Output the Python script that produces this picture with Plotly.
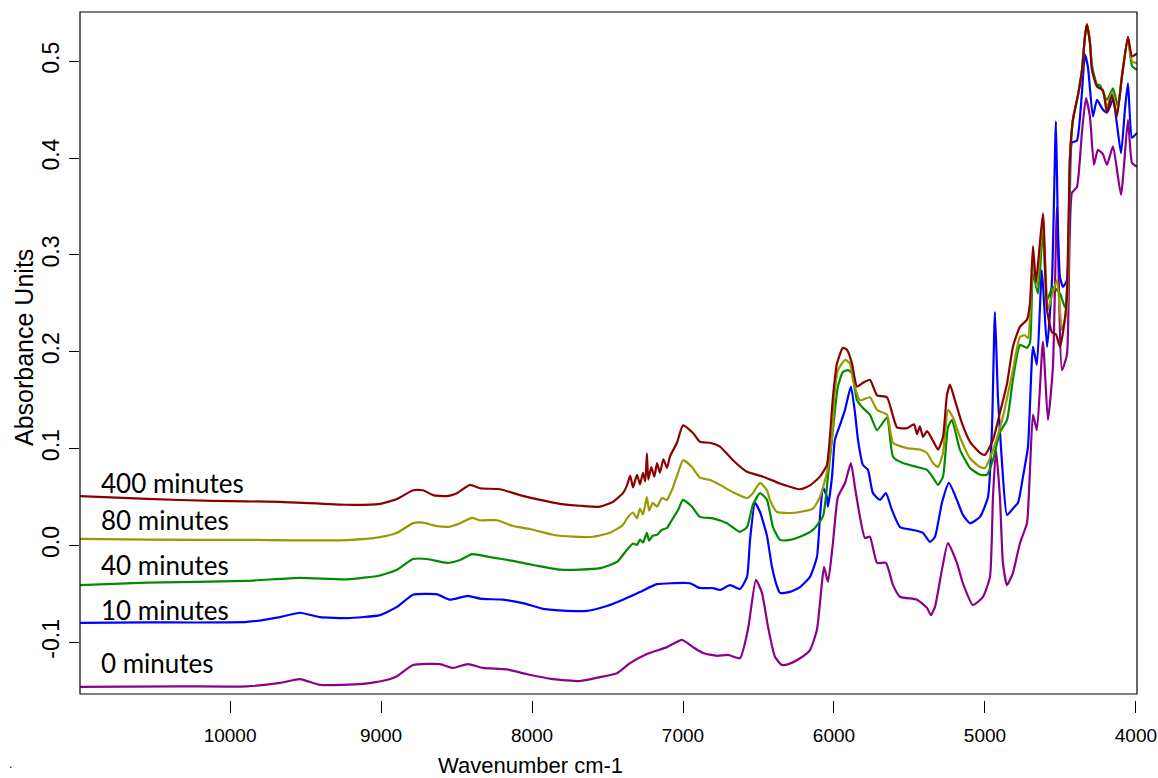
import plotly.graph_objects as go

# ---------------- data ----------------
wn_400 = [10994, 10550, 10113, 9669, 9226, 9007, 8894, 8788, 8722, 8656, 8563, 8497, 8411, 8345, 8212, 8080,
          7947, 7815, 7682, 7550, 7464, 7398, 7371, 7350, 7331, 7305, 7285, 7265, 7250, 7239, 7230, 7210,
          7190, 7172, 7153, 7130, 7106, 7086, 7040, 7000, 6934, 6888, 6821, 6755, 6669, 6576, 6470, 6358,
          6225, 6159, 6093, 6047, 6027, 6007, 5980, 5941, 5914, 5881, 5848, 5808, 5762, 5715, 5649, 5583,
          5517, 5470, 5450, 5431, 5410, 5384, 5344, 5311, 5278, 5252, 5232, 5199, 5152, 5099, 5033, 5000,
          4947, 4901, 4854, 4815, 4768, 4722, 4702, 4682, 4662, 4616, 4589, 4556, 4530, 4503, 4470, 4457,
          4437, 4417, 4384, 4358, 4338, 4325, 4305, 4291, 4258, 4219, 4192, 4159, 4126, 4093, 4053, 4026, 3993]
abs_400 = [0.051, 0.048, 0.046, 0.045, 0.042, 0.043, 0.048, 0.057, 0.057, 0.052, 0.051, 0.054, 0.0625, 0.059, 0.058, 0.052,
           0.047, 0.043, 0.041, 0.040, 0.045, 0.054, 0.062, 0.072, 0.060, 0.073, 0.063, 0.075, 0.066, 0.095, 0.068, 0.081,
           0.071, 0.085, 0.075, 0.089, 0.080, 0.092, 0.106, 0.124, 0.116, 0.107, 0.106, 0.102, 0.088, 0.076, 0.071, 0.064,
           0.058, 0.062, 0.071, 0.083, 0.112, 0.153, 0.188, 0.204, 0.202, 0.188, 0.164, 0.168, 0.171, 0.155, 0.153, 0.122,
           0.121, 0.125, 0.115, 0.123, 0.112, 0.118, 0.108, 0.099, 0.112, 0.155, 0.166, 0.150, 0.126, 0.107, 0.0955, 0.0935,
           0.109, 0.137, 0.167, 0.205, 0.226, 0.233, 0.250, 0.309, 0.272, 0.343, 0.243, 0.220, 0.218, 0.205, 0.235, 0.260,
           0.400, 0.440, 0.465, 0.490, 0.525, 0.538, 0.520, 0.491, 0.474, 0.470, 0.447, 0.465, 0.443, 0.484, 0.525, 0.505, 0.508]

wn_80 = [10994, 10550, 9888, 9226, 9007, 8894, 8788, 8722, 8629, 8543, 8477, 8398, 8345, 8232, 8126, 8014,
         7861, 7729, 7596, 7484, 7398, 7371, 7331, 7305, 7285, 7265, 7239, 7225, 7200, 7172, 7140, 7106,
         7086, 7066, 7033, 7000, 6941, 6888, 6821, 6755, 6669, 6576, 6537, 6490, 6444, 6424, 6378, 6292,
         6225, 6139, 6093, 6047, 6013, 5994, 5974, 5927, 5894, 5874, 5828, 5762, 5715, 5649, 5609, 5517,
         5431, 5384, 5344, 5311, 5278, 5245, 5212, 5166, 5099, 5033, 5000, 4947, 4881, 4815, 4768, 4735,
         4715, 4682, 4656, 4616, 4583, 4556, 4523, 4490, 4457, 4437, 4417, 4384, 4358, 4338, 4325, 4305,
         4291, 4258, 4219, 4192, 4159, 4126, 4093, 4053, 4026, 3993]
abs_80 = [0.0067, 0.006, 0.0057, 0.0055, 0.0085, 0.013, 0.023, 0.0235, 0.020, 0.0195, 0.023, 0.0285, 0.026, 0.026, 0.020, 0.017,
          0.011, 0.009, 0.009, 0.013, 0.021, 0.028, 0.034, 0.028, 0.038, 0.032, 0.050, 0.036, 0.044, 0.040, 0.049, 0.047,
          0.053, 0.060, 0.075, 0.088, 0.081, 0.070, 0.0675, 0.0625, 0.055, 0.049, 0.054, 0.0645, 0.057, 0.047, 0.0345, 0.0335,
          0.0345, 0.038, 0.050, 0.075, 0.112, 0.160, 0.181, 0.1915, 0.188, 0.171, 0.150, 0.153, 0.140, 0.135, 0.106, 0.1005,
          0.099, 0.0955, 0.085, 0.081, 0.0955, 0.140, 0.132, 0.112, 0.090, 0.081, 0.080, 0.0985, 0.133, 0.181, 0.2155, 0.217,
          0.214, 0.292, 0.267, 0.336, 0.243, 0.258, 0.274, 0.2225, 0.243, 0.400, 0.440, 0.465, 0.490, 0.525, 0.538, 0.520,
          0.491, 0.474, 0.470, 0.452, 0.468, 0.446, 0.484, 0.525, 0.500, 0.498]

wn_40 = [10994, 10550, 9888, 9537, 9226, 9007, 8894, 8788, 8696, 8563, 8477, 8398, 8278, 8126, 7967, 7815,
         7682, 7550, 7437, 7371, 7330, 7305, 7285, 7265, 7239, 7225, 7200, 7172, 7140, 7106, 7086, 7033,
         7000, 6941, 6888, 6802, 6709, 6623, 6576, 6537, 6490, 6444, 6404, 6358, 6292, 6225, 6139, 6073,
         6040, 6007, 5974, 5941, 5907, 5881, 5848, 5808, 5762, 5715, 5649, 5609, 5543, 5450, 5384, 5344,
         5311, 5278, 5245, 5219, 5166, 5099, 5033, 4987, 4947, 4901, 4854, 4815, 4768, 4722, 4702, 4682,
         4649, 4616, 4589, 4550, 4503, 4470, 4450, 4437, 4417, 4384, 4358, 4338, 4325, 4305, 4291, 4258,
         4238, 4192, 4152, 4119, 4093, 4053, 4026, 3993]
abs_40 = [-0.041, -0.0385, -0.0365, -0.0335, -0.035, -0.031, -0.025, -0.014, -0.014, -0.018, -0.015, -0.009, -0.012, -0.016, -0.021, -0.025,
          -0.025, -0.0235, -0.017, -0.0045, 0.002, 0.0005, 0.006, 0.003, 0.013, 0.005, 0.010, 0.011, 0.016, 0.018, 0.023, 0.0365,
          0.047, 0.040, 0.0295, 0.028, 0.023, 0.014, 0.019, 0.042, 0.054, 0.047, 0.019, 0.0057, 0.0057, 0.009, 0.016, 0.030,
          0.071, 0.119, 0.164, 0.179, 0.181, 0.178, 0.150, 0.142, 0.135, 0.119, 0.132, 0.0915, 0.085, 0.081, 0.078, 0.070,
          0.0625, 0.071, 0.122, 0.1295, 0.099, 0.080, 0.073, 0.073, 0.088, 0.117, 0.1295, 0.171, 0.207, 0.204, 0.209, 0.281,
          0.260, 0.326, 0.2535, 0.267, 0.260, 0.246, 0.284, 0.400, 0.440, 0.465, 0.490, 0.525, 0.538, 0.520, 0.495, 0.476,
          0.475, 0.460, 0.472, 0.453, 0.484, 0.525, 0.495, 0.491]

wn_10 = [10994, 10550, 9888, 9669, 9537, 9404, 9226, 9007, 8894, 8788, 8629, 8543, 8424, 8345, 8192, 8060,
         7927, 7768, 7636, 7504, 7398, 7285, 7172, 7066, 6954, 6888, 6802, 6755, 6689, 6623, 6576, 6556,
         6523, 6490, 6444, 6411, 6378, 6358, 6292, 6225, 6159, 6113, 6093, 6073, 6047, 6040, 6013, 5994,
         5960, 5927, 5888, 5861, 5841, 5808, 5775, 5742, 5695, 5656, 5616, 5563, 5477, 5411, 5364, 5331,
         5285, 5239, 5186, 5146, 5099, 5033, 4980, 4954, 4934, 4914, 4887, 4854, 4815, 4781, 4748, 4715,
         4682, 4656, 4623, 4589, 4556, 4530, 4517, 4503, 4483, 4457, 4437, 4424, 4391, 4358, 4338, 4318,
         4285, 4258, 4219, 4192, 4152, 4099, 4073, 4053, 4026, 3993]
abs_10 = [-0.080, -0.0795, -0.079, -0.074, -0.0695, -0.074, -0.075, -0.072, -0.0635, -0.051, -0.0505, -0.056, -0.052, -0.055, -0.056, -0.0595,
          -0.0655, -0.0675, -0.0675, -0.0625, -0.056, -0.048, -0.040, -0.039, -0.039, -0.044, -0.044, -0.046, -0.041, -0.045, -0.0325, 0.0057,
          0.044, 0.0345, 0.010, -0.022, -0.042, -0.049, -0.048, -0.043, -0.0325, -0.012, 0.029, 0.060, 0.050, 0.040, 0.071, 0.109,
          0.1245, 0.140, 0.164, 0.137, 0.109, 0.083, 0.078, 0.054, 0.047, 0.054, 0.0365, 0.019, 0.016, 0.013, 0.0036, 0.009,
          0.044, 0.0645, 0.047, 0.0315, 0.023, 0.0295, 0.050, 0.119, 0.241, 0.153, 0.085, 0.0315, 0.038, 0.044, 0.071, 0.102,
          0.205, 0.1865, 0.284, 0.205, 0.274, 0.438, 0.330, 0.277, 0.267, 0.274, 0.370, 0.416, 0.418, 0.467, 0.507, 0.494,
          0.443, 0.460, 0.450, 0.447, 0.460, 0.405, 0.450, 0.477, 0.421, 0.426]

wn_0 = [10994, 10331, 9888, 9669, 9537, 9404, 9120, 8961, 8894, 8788, 8610, 8523, 8424, 8325, 8166, 8033,
        7861, 7682, 7550, 7437, 7351, 7239, 7106, 7007, 6934, 6868, 6775, 6702, 6623, 6570, 6517, 6477,
        6437, 6391, 6345, 6292, 6225, 6159, 6113, 6080, 6066, 6040, 6007, 5974, 5927, 5888, 5861, 5828,
        5795, 5762, 5715, 5656, 5609, 5563, 5450, 5384, 5358, 5331, 5285, 5245, 5186, 5146, 5080, 5013,
        4967, 4947, 4927, 4901, 4881, 4854, 4815, 4768, 4722, 4702, 4682, 4656, 4616, 4583, 4550, 4523,
        4490, 4457, 4424, 4391, 4358, 4331, 4305, 4278, 4252, 4219, 4192, 4152, 4099, 4053, 4026, 3993]
abs_0 = [-0.146, -0.1455, -0.1455, -0.142, -0.138, -0.144, -0.143, -0.139, -0.135, -0.1235, -0.1225, -0.1265, -0.1225, -0.1265, -0.128, -0.133,
         -0.138, -0.140, -0.136, -0.132, -0.1215, -0.112, -0.105, -0.0975, -0.105, -0.111, -0.114, -0.113, -0.1165, -0.087, -0.0355, -0.049,
         -0.084, -0.115, -0.1235, -0.122, -0.1165, -0.108, -0.087, -0.039, -0.022, -0.0375, 0.0025, 0.050, 0.0645, 0.085, 0.060, 0.0295,
         0.0077, 0.009, -0.018, -0.018, -0.041, -0.053, -0.056, -0.0645, -0.072, -0.0635, -0.025, 0.0025, -0.018, -0.039, -0.0615, -0.053,
         -0.0325, 0.050, 0.0985, 0.050, -0.018, -0.041, -0.0285, 0.0025, 0.023, 0.078, 0.135, 0.119, 0.2105, 0.1295, 0.184, 0.349,
         0.181, 0.197, 0.364, 0.370, 0.426, 0.462, 0.443, 0.393, 0.4085, 0.404, 0.393, 0.412, 0.362, 0.4395, 0.395, 0.391]

series_names = ["0 minutes", "10 minutes", "40 minutes", "80 minutes", "400 minutes"]
series_colors = ["#8B008B", "#0000FF", "#008B00", "#999900", "#8B0000"]
series_wn = [wn_0, wn_10, wn_40, wn_80, wn_400]
series_abs = [abs_0, abs_10, abs_40, abs_80, abs_400]

# label anchor values (wavenumber, absorbance) for the in-plot series labels
label_wn = [10868, 10868, 10868, 10868, 10868]
label_abs = [-0.121, -0.067, -0.020, 0.0263, 0.064]

x_tickvals = [10000, 9000, 8000, 7000, 6000, 5000, 4000]
x_ticktext = ["10000", "9000", "8000", "7000", "6000", "5000", "4000"]
y_tickvals = [-0.1, 0.0, 0.1, 0.2, 0.3, 0.4, 0.5]
y_ticktext = ["-0.1", "0.0", "0.1", "0.2", "0.3", "0.4", "0.5"]

x_range = [10994, 3993]
y_range = [-0.1596, 0.5508]

# ---------------- figure ----------------
fig = go.Figure()
for name, col, xs, ys in zip(series_names, series_colors, series_wn, series_abs):
    assert len(xs) == len(ys), name
    fig.add_trace(go.Scatter(x=xs, y=ys, mode="lines", name=name,
                             line=dict(color=col, width=2.2, shape="spline", smoothing=0.5),
                             showlegend=False))

for name, lx, ly in zip(series_names, label_wn, label_abs):
    fig.add_annotation(x=lx, y=ly, xref="x", yref="y", text=name, showarrow=False,
                       xanchor="left", yanchor="middle",
                       font=dict(family="Lato, Open Sans, sans-serif", size=26, color="black"))

xtick_font = dict(family="Liberation Sans, Arial, sans-serif", size=19, color="black")
ytick_font = dict(family="Liberation Sans, Arial, sans-serif", size=23, color="black")

fig.update_layout(
    width=1158, height=778,
    margin=dict(l=80, r=21, t=12, b=78, autoexpand=False),
    paper_bgcolor="white", plot_bgcolor="white",
    xaxis=dict(range=x_range, tickvals=x_tickvals, ticktext=x_ticktext,
               ticks="outside", ticklen=12, tickwidth=1, tickcolor="black",
               showgrid=False, zeroline=False, showline=False, automargin=False,
               tickfont=xtick_font, ticklabeloverflow="allow", ticklabelstandoff=6),
    yaxis=dict(range=y_range, tickvals=y_tickvals, ticktext=y_ticktext,
               ticks="outside", ticklen=10, tickwidth=1, tickcolor="black",
               showgrid=False, zeroline=False, showline=False, automargin=False,
               tickangle=-90, tickfont=ytick_font, ticklabelstandoff=1),
    shapes=[dict(type="rect", xref="paper", yref="paper", x0=0, x1=1, y0=6 / 688, y1=1,
                 line=dict(color="black", width=1.2), layer="above")],
)

fig.add_annotation(text="Absorbance Units", xref="paper", yref="paper",
                   x=(24 - 80) / 1057, y=(700 - 348) / 688, textangle=-90, showarrow=False,
                   xanchor="center", yanchor="middle",
                   font=dict(family="Liberation Sans, Arial, sans-serif", size=25, color="black"))
fig.add_annotation(text="Wavenumber cm-1", xref="paper", yref="paper",
                   x=(530 - 80) / 1057, y=-(765 - 700) / 688, showarrow=False,
                   xanchor="center", yanchor="middle",
                   font=dict(family="Liberation Sans, Arial, sans-serif", size=22, color="black"))
fig.add_annotation(text=".", xref="paper", yref="paper",
                   x=(10 - 80) / 1057, y=-(764 - 700) / 688, showarrow=False,
                   xanchor="center", yanchor="middle",
                   font=dict(family="Liberation Sans, Arial, sans-serif", size=12, color="black"))

fig.write_html("out.html")
